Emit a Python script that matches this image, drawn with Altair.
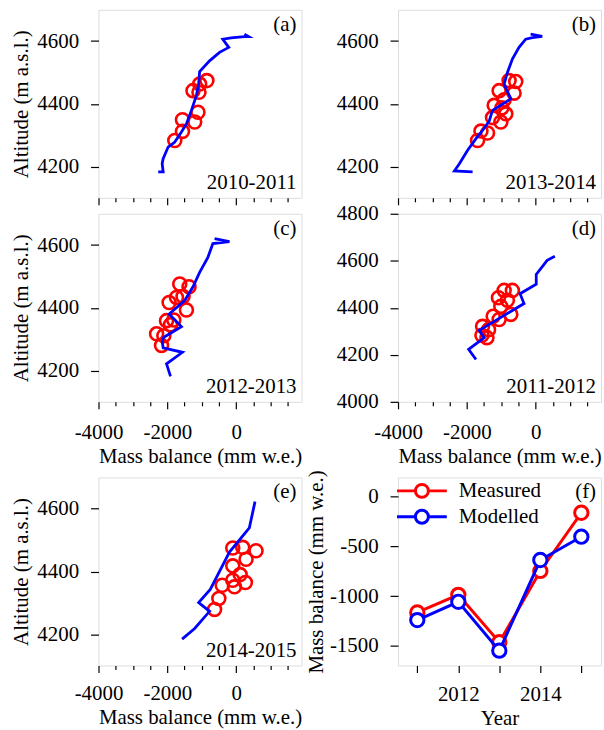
import altair as alt
import pandas as pd

FONT = "Liberation Serif"
FS = 21
RED = "#ff0000"
BLUE = "#0000ff"
W, H = 204, 189

panel_labels = ["(a)", "(b)", "(c)", "(d)", "(e)", "(f)"]
panel_years = ["2010-2011", "2013-2014", "2012-2013", "2011-2012", "2014-2015"]

# ---- (a) 2010-2011
a_meas_mb = [-850, -1060, -1254, -1080, -1110, -1205, -1560, -1560, -1783]
a_meas_alt = [4474, 4463, 4442, 4437, 4373, 4342, 4349, 4312, 4283]
a_mod_mb = [-2265, -2121, -2150, -2121, -1977, -1783, -1590, -1445, -1300, -1156,
            -1090, -1061, -772, -483, -214, -387, -145, 240, 364, 240]
a_mod_alt = [4183, 4183, 4209, 4225, 4262, 4278, 4310, 4336, 4379, 4426,
             4463, 4503, 4537, 4564, 4580, 4606, 4610, 4614, 4614, 4622]

# ---- (b) 2013-2014
b_meas_mb = [-772, -578, -1061, -627, -916, -1205, -983, -867, -1254, -1012, -1590, -1398, -1688]
b_meas_alt = [4474, 4471, 4442, 4434, 4413, 4395, 4387, 4368, 4356, 4342, 4313, 4307, 4283]
b_mod_mb = [-1832, -2361, -2217, -1977, -1734, -1543, -1350, -1254, -723, -916,
            -820, -676, -483, -289, -98, 191, -145]
b_mod_alt = [4183, 4186, 4209, 4252, 4289, 4315, 4345, 4379, 4416, 4463,
             4500, 4543, 4580, 4606, 4611, 4615, 4622]

# ---- (c) 2012-2013
c_meas_mb = [-1639, -1369, -1734, -1543, -1948, -1445, -2023, -1812, -1907, -2312, -2101, -2168]
c_meas_alt = [4476, 4467, 4433, 4436, 4417, 4393, 4359, 4361, 4346, 4317, 4311, 4280]
c_mod_mb = [-1907, -2023, -1561, -2121, -2150, -2101, -1590, -1948, -1494, -1254,
            -1061, -821, -676, -194, -627]
c_mod_alt = [4181, 4221, 4258, 4272, 4293, 4306, 4340, 4380, 4423, 4467,
             4513, 4561, 4605, 4611, 4621]

# ---- (d) 2011-2012
d_meas_mb = [-916, -676, -1081, -821, -1012, -723, -1234, -1061, -1543, -1369, -1561, -1416]
d_meas_alt = [4474, 4474, 4443, 4432, 4406, 4372, 4364, 4350, 4321, 4307, 4283, 4273]
d_mod_mb = [-1734, -1948, -1494, -1639, -338, -454, 17, 17, 335, 558]
d_mod_alt = [4180, 4223, 4273, 4304, 4418, 4460, 4500, 4542, 4602, 4619]

# ---- (e) 2014-2015
e_meas_mb = [-98, 191, 578, 289, -98, 116, -98, 269, -405, -49, -503, -627]
e_meas_alt = [4475, 4477, 4466, 4439, 4418, 4390, 4372, 4365, 4356, 4351, 4314, 4279]
e_mod_mb = [-1571, -1205, -772, -1090, -752, -194, 384, 549]
e_mod_alt = [4184, 4218, 4273, 4301, 4343, 4462, 4539, 4623]

# ---- (f) annual glacier-wide mass balance
f_years = [2011, 2012, 2013, 2014, 2015]
f_measured = [-1165, -988, -1466, -747, -161]
f_modelled = [-1242, -1058, -1550, -637, -402]
f_series = ["Measured", "Modelled"]

MB_TICKS = list(range(-4000, 1501, 500))
XDOM = [-4000, 1900]
TICK_COND = {"condition": {"test": "datum.value % 2000 === 0", "value": 7}, "value": 4}

common_axis = dict(domain=False, grid=False, tickColor="black", tickWidth=1.2,
                   labelFont=FONT, labelFontSize=FS, labelColor="black",
                   labelFlush=False, labelOverlap=False)
title_style = dict(titleFont=FONT, titleFontSize=FS, titleFontWeight="normal",
                   titleColor="black", titleBaseline="alphabetic")


def mb_x(show_labels, title_y, label_pad):
    scale = alt.Scale(domain=XDOM, nice=False, zero=False)
    if show_labels:
        ax = alt.Axis(values=MB_TICKS, tickSize=TICK_COND, labelPadding=label_pad,
                      labelBaseline="alphabetic",
                      labelExpr="datum.value % 2000 === 0 ? toString(datum.value) : ''",
                      title="Mass balance (mm w.e.)", titleX=W / 2, titleY=title_y,
                      **title_style, **common_axis)
        return alt.X("mb:Q", scale=scale, axis=ax)
    ax = alt.Axis(values=MB_TICKS, tickSize=TICK_COND, labels=False, **common_axis)
    return alt.X("mb:Q", title=None, scale=scale, axis=ax)


def alt_y(ydom, yvals, show_title):
    scale = alt.Scale(domain=ydom, nice=False, zero=False)
    if show_title:
        ax = alt.Axis(values=yvals, tickSize=8, labelPadding=12,
                      labelExpr="toString(datum.value)",
                      title="Altitude (m a.s.l.)", titleX=-71.5, titleY=H / 2,
                      **title_style, **common_axis)
        return alt.Y("alt:Q", scale=scale, axis=ax)
    ax = alt.Axis(values=yvals, tickSize=8, labelPadding=12,
                  labelExpr="toString(datum.value)", **common_axis)
    return alt.Y("alt:Q", title=None, scale=scale, axis=ax)


def panel_texts(label, year):
    lab = alt.Chart(pd.DataFrame({"t": [label]})).mark_text(
        align="right", baseline="alphabetic", font=FONT, fontSize=FS, color="black"
    ).encode(x=alt.value(W - 5), y=alt.value(21), text="t:N")
    layers = [lab]
    if year is not None:
        yr = alt.Chart(pd.DataFrame({"t": [year]})).mark_text(
            align="right", baseline="alphabetic", font=FONT, fontSize=FS, color="black"
        ).encode(x=alt.value(W - 5), y=alt.value(H - 8.5), text="t:N")
        layers.append(yr)
    return layers


def profile_panel(meas_mb, meas_alt, mod_mb, mod_alt, label, year, ydom, yvals,
                  show_xlabels, show_ytitle, xtitle_y=61, label_pad=30):
    meas = pd.DataFrame({"mb": meas_mb, "alt": meas_alt})
    mod = pd.DataFrame({"mb": mod_mb, "alt": mod_alt, "i": list(range(len(mod_mb)))})
    x = mb_x(show_xlabels, xtitle_y, label_pad)
    y = alt_y(ydom, yvals, show_ytitle)
    pts = alt.Chart(meas).mark_point(shape="circle", filled=False, size=170,
                                     strokeWidth=2.6, color=RED, opacity=1).encode(x=x, y=y)
    line = alt.Chart(mod).mark_line(color=BLUE, strokeWidth=2.8, clip=True).encode(
        x=x, y=y, order=alt.Order("i:Q"))
    return alt.layer(pts, line, *panel_texts(label, year)).properties(width=W, height=H)


Y1 = [4100, 4700]
YV1 = [4200, 4400, 4600]

pa = profile_panel(a_meas_mb, a_meas_alt, a_mod_mb, a_mod_alt, panel_labels[0], panel_years[0],
                   Y1, YV1, False, True)
pb = profile_panel(b_meas_mb, b_meas_alt, b_mod_mb, b_mod_alt, panel_labels[1], panel_years[1],
                   Y1, YV1, False, False)
pc = profile_panel(c_meas_mb, c_meas_alt, c_mod_mb, c_mod_alt, panel_labels[2], panel_years[2],
                   Y1, YV1, True, True, 61, 30)
pd_ = profile_panel(d_meas_mb, d_meas_alt, d_mod_mb, d_mod_alt, panel_labels[3], panel_years[3],
                    [4000, 4800], [4000, 4200, 4400, 4600, 4800], True, False, 61, 30)
pe = profile_panel(e_meas_mb, e_meas_alt, e_mod_mb, e_mod_alt, panel_labels[4], panel_years[4],
                   Y1, YV1, True, True, 58, 27)

# ---- panel (f)
fdf = pd.DataFrame({
    "year": f_years * 2,
    "val": f_measured + f_modelled,
    "series": [f_series[0]] * len(f_years) + [f_series[1]] * len(f_years),
})
LEG_PATH = "M-2.5,0L-0.65,0A0.65,0.65,0,1,1,0.65,0A0.65,0.65,0,1,1,-0.65,0M0.65,0L2.5,0"
leg = alt.Legend(orient="none", legendX=12.5, legendY=2, direction="vertical", title=None,
                 symbolType=LEG_PATH, symbolSize=400, symbolStrokeWidth=3,
                 symbolFillColor="white", symbolOffset=0, labelOffset=25.5, rowPadding=1,
                 padding=0, labelFont=FONT, labelFontSize=FS, labelColor="black",
                 labelBaseline="middle")
stroke = alt.Stroke("series:N", scale=alt.Scale(domain=f_series, range=[RED, BLUE]), legend=leg)
fx = alt.X("year:Q", scale=alt.Scale(domain=[2010.53, 2015.48], nice=False, zero=False),
           axis=alt.Axis(values=f_years, tickSize=7, labelPadding=28, labelBaseline="alphabetic",
                         labelExpr="datum.value % 2 === 0 ? toString(datum.value) : ''",
                         title="Year", titleX=W / 2, titleY=59, **title_style, **common_axis))
fy = alt.Y("val:Q", scale=alt.Scale(domain=[-1700, 195], nice=False, zero=False),
           axis=alt.Axis(values=[-1500, -1000, -500, 0], tickSize=8, labelPadding=12,
                         labelExpr="toString(datum.value)",
                         title="Mass balance (mm w.e.)", titleX=-76, titleY=H / 2,
                         **title_style, **common_axis))
f_layers = []
for s in f_series:
    base = alt.Chart(fdf).transform_filter(alt.datum.series == s)
    f_layers.append(base.mark_line(strokeWidth=3).encode(x=fx, y=fy, stroke=stroke))
    f_layers.append(base.mark_circle(size=180, opacity=1, strokeWidth=3).encode(
        x=fx, y=fy, stroke=stroke, fill=alt.value("white")))
pf = alt.layer(*f_layers, *panel_texts(panel_labels[5], None)).properties(width=W, height=H)


def spacer():
    return alt.Chart(pd.DataFrame({"v": [0]})).mark_point(opacity=0).encode(
        x=alt.X("v:Q", axis=None), y=alt.Y("v:Q", axis=None)
    ).properties(width=W, height=44, view=alt.ViewBackground(stroke="transparent"))


chart = alt.concat(
    pa, pb, pc, pd_, spacer(), spacer(), pe, pf,
    columns=2, spacing={"row": 16, "column": 97}, bounds="flush", align="each",
).resolve_scale(stroke="independent").properties(
    padding={"left": 9, "top": 7, "right": 2, "bottom": 2}
).configure_view(stroke="black", strokeWidth=1.3).configure(background="white")

chart.save("out.html", embed_options={"renderer": "svg", "actions": False})
